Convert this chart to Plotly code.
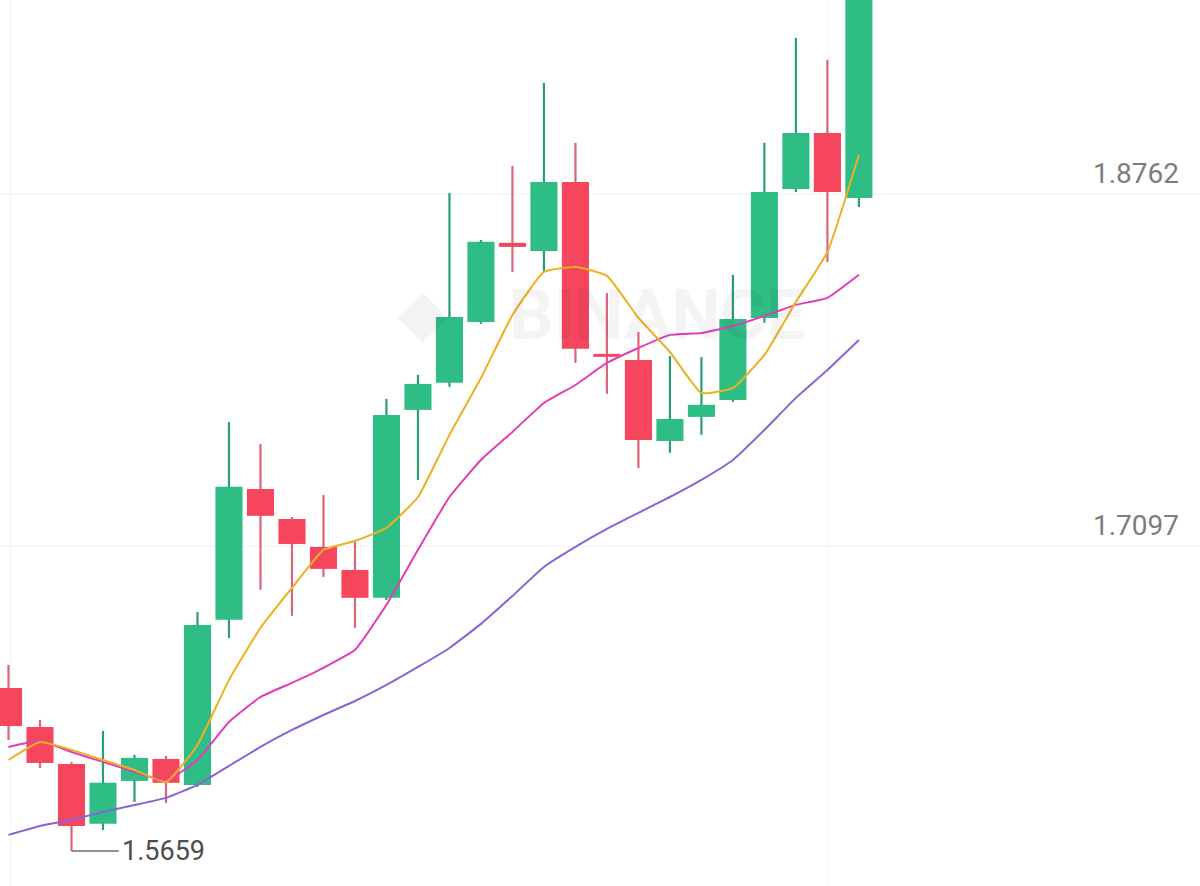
import plotly.graph_objects as go

# ---- data ----
idx = list(range(28))
opens  = [1.6430, 1.6245, 1.6070, 1.5787, 1.5990, 1.6094, 1.5971, 1.6752, 1.7371, 1.7229,
          1.7097, 1.6988, 1.6856, 1.7745, 1.7873, 1.8161, 1.8535, 1.8497, 1.8823, 1.8010,
          1.7981, 1.7598, 1.7712, 1.7792, 1.8180, 1.8790, 1.9055, 1.8748]
highs  = [1.6539, 1.6279, 1.6080, 1.6227, 1.6113, 1.6108, 1.6789, 1.7688, 1.7584, 1.7238,
          1.7343, 1.7130, 1.7797, 1.7911, 1.8771, 1.8549, 1.8899, 1.9292, 1.9008, 1.8298,
          1.8114, 1.8000, 1.7995, 1.8384, 1.9008, 1.9505, 1.9401, 2.0063]
lows   = [1.6184, 1.6051, 1.5659, 1.5758, 1.5891, 1.5886, 1.5962, 1.6666, 1.6894, 1.6771,
          1.6955, 1.6714, 1.6846, 1.7414, 1.7854, 1.8152, 1.8398, 1.8398, 1.7967, 1.7821,
          1.7471, 1.7542, 1.7627, 1.7783, 1.8157, 1.8776, 1.8445, 1.8705]
closes = [1.6250, 1.6075, 1.5777, 1.5981, 1.6099, 1.5981, 1.6728, 1.7381, 1.7244, 1.7111,
          1.6993, 1.6856, 1.7721, 1.7868, 1.8185, 1.8540, 1.8516, 1.8823, 1.8034, 1.7996,
          1.7603, 1.7702, 1.7769, 1.8175, 1.8776, 1.9055, 1.8776, 1.9968]

ma_yellow = [1.6089, 1.6174, 1.6137, 1.6089, 1.6042, 1.5985, 1.6160, 1.6468, 1.6714, 1.6903,
             1.7083, 1.7125, 1.7187, 1.7333, 1.7627, 1.7896, 1.8194, 1.8398, 1.8421, 1.8379,
             1.8180, 1.8019, 1.7825, 1.7849, 1.8005, 1.8256, 1.8492, 1.8951]
ma_magenta = [1.6151, 1.6179, 1.6127, 1.6080, 1.6033, 1.5990, 1.6089, 1.6269, 1.6387, 1.6454,
              1.6525, 1.6610, 1.6823, 1.7083, 1.7333, 1.7508, 1.7641, 1.7778, 1.7863, 1.7967,
              1.8038, 1.8100, 1.8109, 1.8142, 1.8190, 1.8242, 1.8275, 1.8384]
ma_purple = [1.5735, 1.5777, 1.5806, 1.5843, 1.5876, 1.5910, 1.5971, 1.6061, 1.6151, 1.6231,
             1.6302, 1.6368, 1.6444, 1.6529, 1.6619, 1.6733, 1.6865, 1.7002, 1.7097, 1.7182,
             1.7258, 1.7333, 1.7414, 1.7508, 1.7650, 1.7802, 1.7934, 1.8076]

price_labels = [1.8762, 1.7097, 1.5431]
low_label = "1.5659"

GREEN = "#2EBD85"
RED = "#F6465D"
GREEN_WICK = "#2a9d78"
RED_WICK = "#d9677a"

up = [c >= o for o, c in zip(opens, closes)]
colors = [GREEN if u else RED for u in up]
wick_colors = [GREEN_WICK if u else RED_WICK for u in up]
body_base = [min(o, c) for o, c in zip(opens, closes)]
body_h = [abs(c - o) for o, c in zip(opens, closes)]
wick_h = [h - l for h, l in zip(highs, lows)]

fig = go.Figure()

fig.add_trace(go.Scatter(x=idx, y=ma_purple, mode="lines",
                         line=dict(color="#8C62D8", width=2, shape="spline", smoothing=0.4),
                         hoverinfo="skip"))
fig.add_trace(go.Scatter(x=idx, y=ma_magenta, mode="lines",
                         line=dict(color="#E23DB8", width=2, shape="spline", smoothing=0.4),
                         hoverinfo="skip"))

# wicks
fig.add_trace(go.Bar(x=idx, y=wick_h, base=lows, width=0.07,
                     marker=dict(color=wick_colors, line=dict(width=0)), hoverinfo="skip"))
# bodies
fig.add_trace(go.Bar(x=idx, y=body_h, base=body_base, width=0.86,
                     marker=dict(color=colors, line=dict(width=0)), hoverinfo="skip"))

fig.add_trace(go.Scatter(x=idx, y=ma_yellow, mode="lines",
                         line=dict(color="#EDB021", width=2, shape="spline", smoothing=0.4),
                         hoverinfo="skip"))

# lowest-low marker
li = min(range(len(lows)), key=lambda i: lows[i])
fig.add_shape(type="line", x0=li, x1=li + 1.5, y0=lows[li], y1=lows[li],
              line=dict(color="#6f6f6f", width=1.5))
fig.add_annotation(x=li + 1.55, y=lows[li], text=low_label, showarrow=False,
                   xanchor="left", yanchor="middle",
                   font=dict(family="Roboto", size=27, color="#4d4d4d"))

# price labels (right side, above gridlines)
for p in price_labels:
    fig.add_annotation(x=0.984, xref="paper", y=p, text=f"{p:.4f}", showarrow=False,
                       xanchor="right", yanchor="middle", yshift=21,
                       font=dict(family="Roboto", size=28, color="#7d7d7d"))

# watermark
fig.add_annotation(x=0.548, xref="paper", y=0.645, yref="paper", text="<b>BINANCE</b>",
                   showarrow=False, font=dict(family="Roboto", size=70, color="rgba(0,0,0,0.045)"))
fig.add_annotation(x=0.352, xref="paper", y=0.647, yref="paper", text="◆",
                   showarrow=False, font=dict(family="DejaVu Sans", size=66, color="rgba(0,0,0,0.045)"))

fig.update_layout(
    width=1200, height=886,
    margin=dict(l=0, r=0, t=0, b=0),
    paper_bgcolor="white", plot_bgcolor="white",
    showlegend=False,
    barmode="overlay",
    xaxis=dict(range=[-0.27, 37.83],
               showticklabels=False, zeroline=False, showline=False,
               showgrid=True, gridcolor="#f4f4f4", tick0=0.05, dtick=26),
    yaxis=dict(range=[1.5493, 1.9684], showticklabels=False, zeroline=False,
               showline=False, showgrid=True, gridcolor="#f2f2f2",
               tickvals=price_labels),
)

fig.write_html("out.html")
